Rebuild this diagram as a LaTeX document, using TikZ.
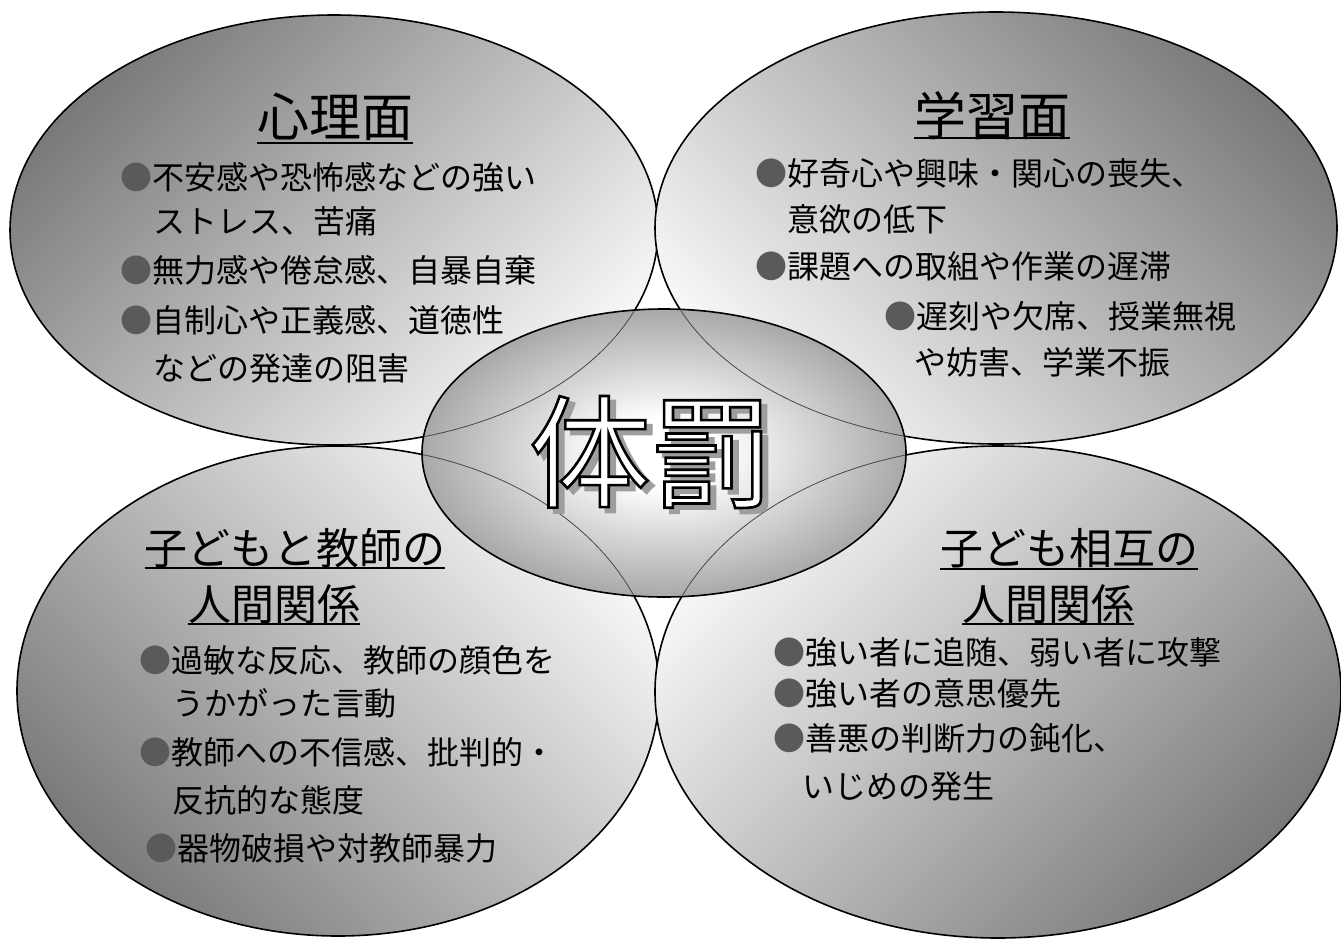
\documentclass[tikz,border=0pt]{standalone}
\usepackage{fontspec}
\setmainfont{Noto Sans CJK JP}
\usetikzlibrary{shapes.geometric,calc}
\definecolor{bulgray}{HTML}{5A5A5A}
\pgfdeclareradialshading{centershade}{\pgfpoint{0bp}{0bp}}{color(0bp)=(white); color(6bp)=(white); color(25bp)=(black!34); color(50bp)=(black!34)}
\newcommand\bulletmark{\textcolor{bulgray}{●}}
\newcommand\outlinedtext[2]{\special{pdf:literal direct #1 G 2.6 w 2 Tr}#2\special{pdf:literal direct 0 Tr 1 w}}
\tikzset{
  quad/.style={ellipse, draw=black, line width=1.6pt, inner sep=0pt, top color=black!52, bottom color=black!3},
  innerline/.style={draw=black!72, line width=0.8pt},
  body/.style={anchor=west, inner sep=0pt, text=black, font=\fontsize{32}{32}\selectfont},
  bigtitle/.style={inner sep=0pt, text=black, font=\fontsize{52}{52}\selectfont},
  midtitle/.style={inner sep=0pt, text=black, font=\fontsize{43}{43}\selectfont},
  uline/.style={draw=black, line width=2pt},
  kanji/.style={inner sep=0pt, font=\fontsize{122}{122}\selectfont}
}
\begin{document}
\begin{tikzpicture}[x=1pt,y=-1pt]
\useasboundingbox (0,0) rectangle (1341,940);
% quadrant ellipses
\node[quad, minimum width=648pt, minimum height=430pt, shading angle=45] (tl) at (334,230) {};
\node[quad, minimum width=682pt, minimum height=432pt, shading angle=-45] (tr) at (996,228) {};
\node[quad, minimum width=642pt, minimum height=490pt, shading angle=135] (bl) at (338,691) {};
\node[quad, minimum width=686pt, minimum height=492pt, shading angle=225] (br) at (998,692) {};
% central ellipse
\node[ellipse, draw=black, line width=1.6pt, inner sep=0pt, minimum width=484pt, minimum height=288pt, shading=centershade] (c) at (664,453) {};
\begin{scope}
  \clip (c.center) ellipse [x radius=241, y radius=143];
  \draw[innerline] (tl.center) ellipse [x radius=324, y radius=215];
  \draw[innerline] (tr.center) ellipse [x radius=341, y radius=216];
  \draw[innerline] (bl.center) ellipse [x radius=321, y radius=245];
  \draw[innerline] (br.center) ellipse [x radius=343, y radius=246];
\end{scope}
% big text
\coordinate (tx) at (651,452);
\node[kanji, text=black!38] (shadow) at ($(tx)+(6,5)$) {\outlinedtext{0.62}{体罰}};
\node[kanji, text=white] (kanji) at (tx) {\outlinedtext{0}{体罰}};
% titles
\node[bigtitle] (t1) at (335,117) {心理面};
\draw[uline] ([yshift=-26pt]t1.west) -- ([yshift=-26pt]t1.east);
\node[bigtitle] (t2) at (992,116) {学習面};
\draw[uline] ([yshift=-22pt]t2.west) -- ([yshift=-22pt]t2.east);
\node[midtitle] (t3a) at (295,548) {子どもと教師の};
\draw[uline] ([yshift=-20pt]t3a.west) -- ([yshift=-20pt]t3a.east);
\node[midtitle] (t3b) at (274,604) {人間関係};
\draw[uline] ([yshift=-20pt]t3b.west) -- ([yshift=-20pt]t3b.east);
\node[midtitle] (t4a) at (1069,548) {子ども相互の};
\draw[uline] ([yshift=-21pt]t4a.west) -- ([yshift=-21pt]t4a.east);
\node[midtitle] (t4b) at (1048,604) {人間関係};
\draw[uline] ([yshift=-20pt]t4b.west) -- ([yshift=-20pt]t4b.east);
% top-left body
\node[body] (a1) at (120,177) {\bulletmark 不安感や恐怖感などの強い};
\node[body] (a2) at (153,221) {ストレス、苦痛};
\node[body] (a3) at (120,270) {\bulletmark 無力感や倦怠感、自暴自棄};
\node[body] (a4) at (120,320) {\bulletmark 自制心や正義感、道徳性};
\node[body] (a5) at (153,368) {などの発達の阻害};
% top-right body
\node[body] (b1) at (755,173) {\bulletmark 好奇心や興味・関心の喪失、};
\node[body] (b2) at (787,219) {意欲の低下};
\node[body] (b3) at (755,267) {\bulletmark 課題への取組や作業の遅滞};
\node[body] (b4) at (884,316) {\bulletmark 遅刻や欠席、授業無視};
\node[body] (b5) at (914,362) {や妨害、学業不振};
% bottom-left body
\node[body] (c1) at (139,660) {\bulletmark 過敏な反応、教師の顔色を};
\node[body] (c2) at (172,703) {うかがった言動};
\node[body] (c3) at (139,752) {\bulletmark 教師への不信感、批判的・};
\node[body] (c4) at (172,800) {反抗的な態度};
\node[body] (c5) at (145,848) {\bulletmark 器物破損や対教師暴力};
% bottom-right body
\node[body] (d1) at (773,652) {\bulletmark 強い者に追随、弱い者に攻撃};
\node[body] (d2) at (773,693) {\bulletmark 強い者の意思優先};
\node[body] (d3) at (773,738) {\bulletmark 善悪の判断力の鈍化、};
\node[body] (d4) at (802,786) {いじめの発生};
\end{tikzpicture}
\end{document}
